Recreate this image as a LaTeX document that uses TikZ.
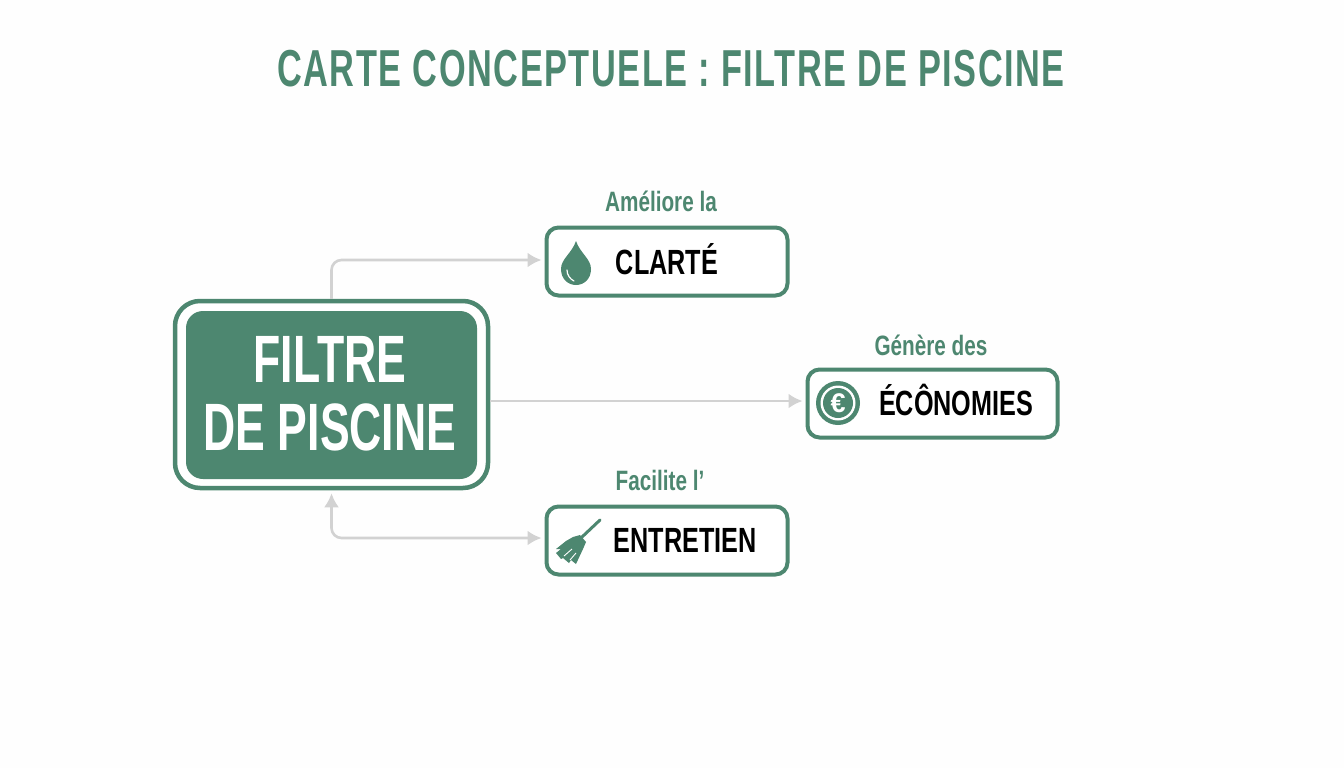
\documentclass[tikz,border=0pt]{standalone}
\usepackage{fontspec}
\usetikzlibrary{arrows.meta}
\newfontfamily\condfont[FakeStretch=0.72]{Liberation Sans}
\newfontfamily\titlefont[FakeStretch=0.66,LetterSpace=3]{Liberation Sans}
\newfontfamily\mainfont[FakeStretch=0.665]{Liberation Sans}
\newfontfamily\verbfont[FakeStretch=0.74]{Liberation Sans}
\definecolor{filtregreen}{HTML}{4D8770}
\definecolor{linkgray}{HTML}{D2D2D2}
\begin{document}
\begin{tikzpicture}
          [
            x=1pt,y=-1pt,
            titre/.style={text=filtregreen,font=\titlefont\bfseries\fontsize{52}{56}\selectfont},
            box/.style={draw=filtregreen,line width=4pt,fill=white,rounded corners=12pt,minimum width=#1,minimum height=68pt,inner sep=0pt},
            boxtext/.style={text=black,font=\condfont\bfseries\fontsize{35}{38}\selectfont},
            verb/.style={text=filtregreen,font=\verbfont\bfseries\fontsize{28}{30}\selectfont},
            link/.style={draw=linkgray,line width=2.6pt,-{Latex[length=14pt,width=15pt]},shorten >=3pt}
          ]
          \useasboundingbox (0,0) rectangle (1344,768);
          \fill [white!99.5!black] (0,0) rectangle (1344,768);
          % title
          \node [titre] (title) at (671,69) {CARTE CONCEPTUELE : FILTRE DE PISCINE};
          % filter
          \node [draw=filtregreen,line width=4.5pt,fill=white,rounded corners=25pt,minimum width=313pt,minimum height=187pt] (filtre) at (331.5,394.5) {};
          \node [fill=filtregreen,rounded corners=17pt,minimum width=291pt,minimum height=168pt] (filtrein) at (331.5,395) {};
          \node [text=white,font=\mainfont\bfseries\fontsize{67}{68}\selectfont,align=center] (filtretext) at (330,394) {FILTRE\\DE PISCINE};
          % boxes
          \node [box=241pt] (clarte) at (667,261.5) {};
          \node [box=250pt] (economies) at (932.5,403.5) {};
          \node [box=241pt] (entretien) at (667,540.5) {};
          \node [boxtext] (clartetext) at (667,259) {CLARTÉ};
          \node [boxtext] (economiestext) at (956,400) {ÉCÔNOMIES};
          \node [boxtext] (entretientext) at (685,540) {ENTRETIEN};
          \node [verb] (clarteverb) at (661,201) {Améliore la};
          \node [verb] (economiesverb) at (931,345) {Génère des};
          \node [verb] (entretienverb) at (660,480) {Facilite l’};
          % links
          \draw [link,rounded corners=10pt] (filtre.north) |- ([yshift=1.5pt]clarte.west);
          \draw [link] ([yshift=2.5pt]filtre.east |- economies.west) -- ([yshift=2.5pt]economies.west);
          \draw [link,{Latex[length=14pt,width=15pt]}-{Latex[length=14pt,width=15pt]},rounded corners=10pt,shorten <=3pt] (filtre.south) |- ([yshift=2.5pt]entretien.west);
          % drop
          \fill [filtregreen] (576,241) .. controls (572,253) and (561,259) .. (561,269) .. controls (561,279) and (568,285) .. (576,285) .. controls (584,285) and (591,279) .. (591,269) .. controls (591,259) and (580,253) .. (576,241) -- cycle;
          \draw [white,line width=1.2pt,line cap=round] (567,270) .. controls (567,275) and (570,279) .. (574,281);
          % euro
          \fill [filtregreen] (838,403) circle (22);
          \fill [white] (838,403) circle (17.5);
          \fill [filtregreen] (838,403) circle (15);
          \node [text=white,font=\bfseries\fontsize{27}{29}\selectfont] (euro) at (838,403) {\fontspec{Liberation Sans}\bfseries €};
          % broom
          \draw [filtregreen,line width=3pt,line cap=round] (600,520) -- (582,537);
          \fill [filtregreen] (573,537) -- (580,535) -- (586,542) -- (583,549) -- (576,564) -- (571,560) -- (569,563) -- (563,558) -- (561,559) -- (556,553) -- (561,549) -- (556,549) -- (566,541) -- cycle;
          \draw [white,line width=0.9pt] (572,549) -- (564,556);
          \draw [white,line width=0.9pt] (576,553) -- (570,560);
        \end{tikzpicture}
\end{document}
